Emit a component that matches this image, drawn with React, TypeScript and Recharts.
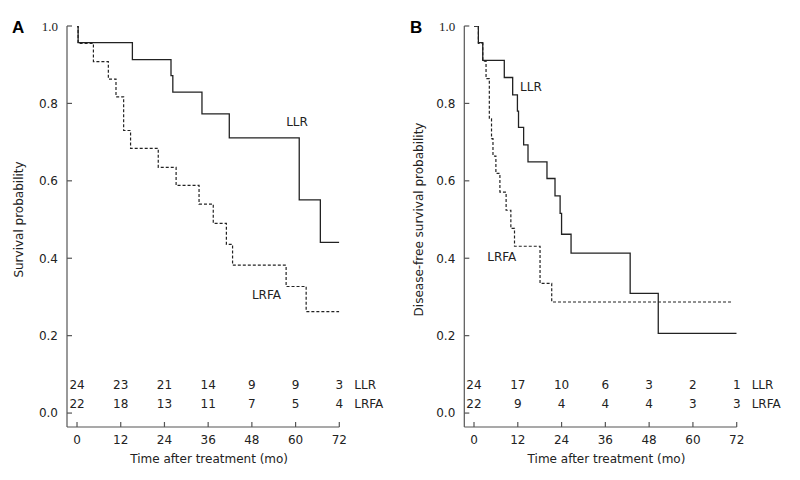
import { LineChart, Line, XAxis, YAxis, ReferenceDot, LabelList } from "recharts";

const timeTicks = [0, 12, 24, 36, 48, 60, 72];
const probTicks = [0, 0.2, 0.4, 0.6, 0.8, 1.0];

// A: overall survival
const llrOsTime = [0, 0.3, 15.2, 25.8, 26.3, 34.3, 41.8, 61.0, 66.8, 72];
const llrOsProb = [1, 0.957, 0.913, 0.872, 0.829, 0.773, 0.711, 0.551, 0.441, 0.441];
const lrfaOsTime = [0, 0.3, 4.5, 8.6, 10.7, 12.8, 14.7, 22.3, 27.2, 33.5, 37.4, 41.0, 42.7, 57.4, 62.9, 72];
const lrfaOsProb = [1, 0.955, 0.908, 0.863, 0.817, 0.73, 0.684, 0.635, 0.588, 0.54, 0.49, 0.436, 0.382, 0.327, 0.262, 0.262];

// B: disease-free survival
const llrDfsTime = [0, 1.2, 2.4, 8.3, 10.6, 11.9, 12.2, 13.6, 14.8, 20.0, 22.2, 23.6, 24.0, 26.6, 42.8, 50.5, 72];
const llrDfsProb = [1, 0.957, 0.911, 0.867, 0.822, 0.78, 0.738, 0.693, 0.649, 0.606, 0.561, 0.516, 0.462, 0.413, 0.309, 0.206, 0.206];
const lrfaDfsTime = [0, 1.2, 2.4, 3.3, 4.2, 4.8, 5.2, 6.0, 7.1, 8.8, 10.1, 11.1, 18.1, 21.3, 70.6];
const lrfaDfsProb = [1, 0.955, 0.909, 0.864, 0.76, 0.709, 0.664, 0.619, 0.571, 0.524, 0.477, 0.431, 0.335, 0.287, 0.287];

// numbers at risk at each time tick
const llrOsAtRisk = [24, 23, 21, 14, 9, 9, 3];
const lrfaOsAtRisk = [22, 18, 13, 11, 7, 5, 4];
const llrDfsAtRisk = [24, 17, 10, 6, 3, 2, 1];
const lrfaDfsAtRisk = [22, 9, 4, 4, 4, 3, 3];

const FONT = "'DejaVu Sans', Verdana, sans-serif";
const INK = "#222";
const AXIS = "#555";

const steps = (times: number[], probs: number[]) => times.map((t, i) => ({ t, p: probs[i] }));
const riskRow = (counts: number[], level: number) => timeTicks.map((t, i) => ({ t, p: level, n: counts[i] }));

const YTick = ({ x, y, payload }: any) => (
  <g>
    <line x1={x} x2={x + 5} y1={y} y2={y} stroke={AXIS} strokeWidth={1.2} />
    <text
      x={x - 9}
      y={y}
      dy="0.36em"
      textAnchor="end"
      fontSize={payload.value === 1 ? 13 : 12}
      fontFamily={payload.value === 1 ? "'Liberation Serif', serif" : FONT}
      fill={INK}
    >
      {payload.value.toFixed(1)}
    </text>
  </g>
);

const XTick = ({ x, y, payload }: any) => (
  <g>
    <line x1={x} x2={x} y1={y} y2={y - 5} stroke={AXIS} strokeWidth={1.2} />
    <text x={x} y={y + 17} textAnchor="middle" fontSize={12} fontFamily={FONT} fill={INK}>
      {payload.value}
    </text>
  </g>
);

interface PanelProps {
  tag: string;
  yLabel: string;
  llr: { t: number; p: number }[];
  lrfa: { t: number; p: number }[];
  llrRisk: number[];
  lrfaRisk: number[];
  xMin: number;
  axisWidth: number;
  rightMargin: number;
  llrTag: [number, number];
  lrfaTag: [number, number];
}

function KmPanel(props: PanelProps) {
  const { tag, yLabel, llr, lrfa, llrRisk, lrfaRisk, xMin, axisWidth, rightMargin, llrTag, lrfaTag } = props;
  const llrLevel = 0.072;
  const lrfaLevel = 0.025;
  const txt = { fontSize: 12, fontFamily: FONT, fill: INK };
  return (
    <div style={{ position: "relative", width: 400, height: 480 }}>
      <div
        style={{
          position: "absolute",
          left: tag === "A" ? 12 : 10,
          top: 18,
          fontFamily: "'Liberation Sans', Arial, sans-serif",
          fontWeight: 700,
          fontSize: 17,
          color: "#000",
        }}
      >
        {tag}
      </div>
      <LineChart width={400} height={480} margin={{ top: 26, right: rightMargin, bottom: 0, left: 0 }}>
        <XAxis
          type="number"
          dataKey="t"
          domain={[xMin, 72]}
          ticks={timeTicks}
          allowDataOverflow
          height={53}
          tickLine={false}
          tickSize={0}
          tickMargin={0}
          axisLine={{ stroke: AXIS, strokeWidth: 1.2 }}
          tick={<XTick />}
          label={{ value: "Time after treatment (mo)", position: "center", dx: 6, dy: 5, style: txt }}
        />
        <YAxis
          type="number"
          domain={[-0.036, 1]}
          ticks={probTicks}
          allowDataOverflow
          width={axisWidth}
          tickLine={false}
          tickSize={0}
          tickMargin={0}
          axisLine={{ stroke: AXIS, strokeWidth: 1.2 }}
          tick={<YTick />}
          label={{ value: yLabel, angle: -90, position: "center", dx: 19 - axisWidth / 2, dy: -7, style: txt }}
        />
        <Line data={llr} dataKey="p" type="stepAfter" stroke={INK} strokeWidth={1.3} dot={false} isAnimationActive={false} />
        <Line
          data={lrfa}
          dataKey="p"
          type="stepAfter"
          stroke={INK}
          strokeWidth={1.2}
          strokeDasharray="3 2"
          dot={false}
          isAnimationActive={false}
        />
        <Line data={riskRow(llrRisk, llrLevel)} dataKey="p" stroke="none" dot={false} isAnimationActive={false}>
          <LabelList dataKey="n" position="center" style={txt} />
        </Line>
        <Line data={riskRow(lrfaRisk, lrfaLevel)} dataKey="p" stroke="none" dot={false} isAnimationActive={false}>
          <LabelList dataKey="n" position="center" style={txt} />
        </Line>
        <ReferenceDot x={72} y={llrLevel} r={0} stroke="none" label={{ value: "LLR", position: "right", offset: 15, style: txt }} />
        <ReferenceDot x={72} y={lrfaLevel} r={0} stroke="none" label={{ value: "LRFA", position: "right", offset: 15, style: txt }} />
        <ReferenceDot x={llrTag[0]} y={llrTag[1]} r={0} stroke="none" label={{ value: "LLR", position: "center", style: txt }} />
        <ReferenceDot x={lrfaTag[0]} y={lrfaTag[1]} r={0} stroke="none" label={{ value: "LRFA", position: "center", style: txt }} />
      </LineChart>
    </div>
  );
}

export default function App() {
  return (
    <div style={{ position: "absolute", left: 0, top: 0, width: 800, height: 480, background: "#fff", display: "flex" }}>
      <KmPanel
        tag="A"
        yLabel="Survival probability"
        llr={steps(llrOsTime, llrOsProb)}
        lrfa={steps(lrfaOsTime, lrfaOsProb)}
        llrRisk={llrOsAtRisk}
        lrfaRisk={lrfaOsAtRisk}
        xMin={-2.75}
        axisWidth={67}
        rightMargin={60.7}
        llrTag={[60.4, 0.752]}
        lrfaTag={[52.0, 0.306]}
      />
      <KmPanel
        tag="B"
        yLabel="Disease-free survival probability"
        llr={steps(llrDfsTime, llrDfsProb)}
        lrfa={steps(lrfaDfsTime, lrfaDfsProb)}
        llrRisk={llrDfsAtRisk}
        lrfaRisk={lrfaDfsAtRisk}
        xMin={-2.66}
        axisWidth={64.3}
        rightMargin={63.3}
        llrTag={[15.6, 0.843]}
        lrfaTag={[7.6, 0.404]}
      />
    </div>
  );
}
